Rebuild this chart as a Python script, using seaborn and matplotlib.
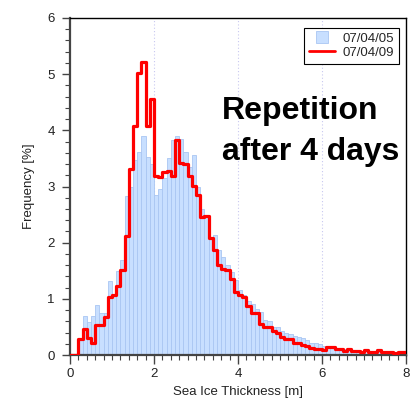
import numpy as np
import pandas as pd
import matplotlib
matplotlib.use("Agg")
import matplotlib.pyplot as plt
import seaborn as sns
from matplotlib.lines import Line2D
from matplotlib.ticker import MultipleLocator

# ---- data ----
bin_edges = [round(0.1 * k, 1) for k in range(81)]
series_labels = ["07/04/05", "07/04/09"]
freq_0405 = [0.0, 0.0, 0.30, 0.69, 0.59, 0.70, 0.89, 0.74, 0.74, 1.32,
             1.07, 1.50, 1.70, 2.83, 3.00, 3.48, 3.62, 3.90, 3.52, 3.40,
             2.85, 2.95, 3.15, 3.50, 3.83, 3.90, 3.85, 3.62, 3.35, 3.56,
             3.00, 2.60, 2.50, 2.10, 2.14, 1.87, 1.75, 1.60, 1.48, 1.34,
             1.16, 1.07, 0.97, 0.90, 0.82, 0.77, 0.62, 0.60, 0.50, 0.50,
             0.43, 0.39, 0.38, 0.33, 0.32, 0.30, 0.26, 0.22, 0.22, 0.20,
             0.16, 0.15, 0.12, 0.11, 0.10, 0.10, 0.09, 0.08, 0.08, 0.07,
             0.07, 0.06, 0.06, 0.05, 0.05, 0.05, 0.04, 0.04, 0.04, 0.04]
freq_0409 = [0.0, 0.0, 0.28, 0.47, 0.31, 0.21, 0.53, 0.53, 0.68, 1.03,
             1.06, 1.22, 1.51, 2.12, 3.31, 4.08, 5.02, 5.22, 4.08, 4.56,
             3.18, 3.17, 3.25, 3.27, 3.19, 3.82, 3.42, 3.40, 3.19, 3.01,
             2.85, 2.46, 2.48, 2.08, 1.87, 1.60, 1.54, 1.51, 1.35, 1.13,
             1.07, 1.04, 0.87, 0.75, 0.75, 0.55, 0.50, 0.50, 0.42, 0.40,
             0.32, 0.28, 0.28, 0.22, 0.21, 0.17, 0.16, 0.12, 0.10, 0.10,
             0.09, 0.14, 0.14, 0.10, 0.11, 0.08, 0.10, 0.07, 0.08, 0.06,
             0.09, 0.06, 0.06, 0.09, 0.05, 0.05, 0.05, 0.03, 0.05, 0.06]
x_ticks = [0, 2, 4, 6, 8]
y_ticks = [0, 1, 2, 3, 4, 5, 6]

centers = [(a + b) / 2 for a, b in zip(bin_edges[:-1], bin_edges[1:])]
df = pd.DataFrame({"thickness": centers, "f05": freq_0405, "f09": freq_0409})

sns.set_style("ticks")
plt.rcParams["font.family"] = ["Liberation Sans", "DejaVu Sans"]

fig = plt.figure(figsize=(4.15, 4.03), dpi=100)
ax = fig.add_axes([70 / 415, 1 - 355 / 403, 336 / 415, 337 / 403])

bar_face = "#c8dfff"
bar_edge = "#a9c6f2"
sns.histplot(data=df, x="thickness", weights="f05", bins=bin_edges,
             element="bars", color=bar_face, edgecolor=bar_edge,
             linewidth=0.6, alpha=1.0, ax=ax, zorder=2)
sns.histplot(data=df, x="thickness", weights="f09", bins=bin_edges,
             element="step", fill=False, color="#ff0000", linewidth=2.3,
             ax=ax, zorder=3)

ax.set_xlim(0, 8)
ax.set_ylim(0, 6)
ax.set_xticks(x_ticks)
ax.set_yticks(y_ticks)
ax.xaxis.set_minor_locator(MultipleLocator(0.2))
ax.yaxis.set_minor_locator(MultipleLocator(0.2))
for xv in x_ticks[1:-1]:
    ax.axvline(xv, color="#c8c8f0", lw=0.8, ls=(0, (1, 2)), zorder=1)

ax.set_xlabel("Sea Ice Thickness [m]", fontsize=9.5, color="#222222", labelpad=4)
ax.set_ylabel("Frequency [%]", fontsize=9.5, color="#222222", labelpad=9)
ax.tick_params(axis="x", which="major", direction="out", length=6.5, width=1.0,
               color="#444444", labelsize=9.5, labelcolor="#222222", pad=3)
ax.tick_params(axis="y", which="major", direction="out", length=6, width=1.0,
               color="#444444", labelsize=9.5, labelcolor="#222222", pad=5)
ax.tick_params(which="minor", direction="out", length=3.5, width=0.8,
               color="#444444")
for s in ["top", "right"]:
    ax.spines[s].set_visible(True)
    ax.spines[s].set_color("black")
    ax.spines[s].set_linewidth(1.0)
for s in ["left", "bottom"]:
    ax.spines[s].set_color("#444444")
    ax.spines[s].set_linewidth(1.6)

handles = [Line2D([], [], marker="s", markersize=8.5, linestyle="None",
                  markerfacecolor=bar_face, markeredgecolor=bar_edge,
                  markeredgewidth=0.6),
           Line2D([], [], color="#ff0000", lw=2.0)]
leg = ax.legend(handles, series_labels, loc="upper right",
                bbox_to_anchor=((399 - 70) / 336, (355 - 28) / 337),
                borderaxespad=0.0, fontsize=9.5,
                frameon=True, fancybox=False, framealpha=1,
                edgecolor="black", handlelength=2.0,
                labelspacing=0.15, borderpad=0.35, handletextpad=0.6)
leg.get_frame().set_linewidth(0.8)

ax.text(3.62, 4.20, "Repetition", fontsize=23, fontweight="bold",
        va="baseline", ha="left", color="black", zorder=5)
ax.text(3.62, 3.47, "after 4 days", fontsize=23, fontweight="bold",
        va="baseline", ha="left", color="black", zorder=5)

fig.savefig("out.png", dpi=100)
